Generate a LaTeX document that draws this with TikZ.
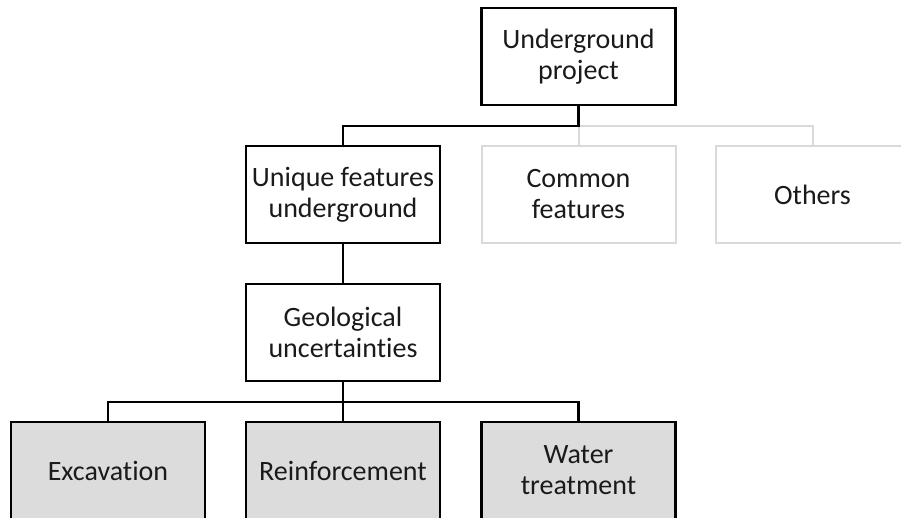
\documentclass[tikz,border=0pt]{standalone}
\usepackage{fontspec}
\setmainfont[Ligatures={NoCommon}]{Carlito}
\definecolor{lightline}{HTML}{D9D9D9}
\definecolor{boxfill}{HTML}{DCDCDC}
\definecolor{txt}{HTML}{1A1A1A}
\begin{document}
\begin{tikzpicture}[x=1pt,y=-1pt,
  box/.style={draw=black,line width=2.6pt,minimum width=194pt,minimum height=97pt,
    align=center,inner sep=0pt,text=txt,font=\fontsize{28}{31}\selectfont},
  ghost/.style={box,draw=lightline,line width=2pt},
  shaded/.style={box,fill=boxfill},
  conn/.style={draw=black,line width=2.6pt},
  gconn/.style={draw=lightline,line width=2pt}]
\useasboundingbox (0,0) rectangle (901,517);
\clip (0,0) rectangle (901,517);
\node[box] (top) at (578.5,56.5) {Underground\\project};
\node[box] (uniq) at (343,194.5) {Unique features\\underground};
\node[ghost] (comm) at (578.5,194.5) {Common\\features};
\node[ghost] (oth) at (812.5,194.5) {Others};
\node[box] (geo) at (343,332.5) {Geological\\uncertainties};
\node[shaded] (exc) at (108,470.5) {Excavation};
\node[shaded] (rein) at (343,470.5) {Reinforcement};
\node[shaded] (wat) at (578.5,470.5) {Water\\treatment};
\coordinate (j1) at (578.5,126);
\coordinate (j2) at (343,402);
\draw[gconn] (j1) -- (comm.north);
\draw[gconn] (j1) -| (oth.north);
\draw[conn] (top.south) -- (j1) -| (uniq.north);
\draw[conn] (uniq.south) -- (geo.north);
\draw[conn] (geo.south) -- (j2);
\draw[conn] (j2) -| (exc.north);
\draw[conn] (j2) -| (wat.north);
\draw[conn] (j2) -- (rein.north);
\end{tikzpicture}
\end{document}
